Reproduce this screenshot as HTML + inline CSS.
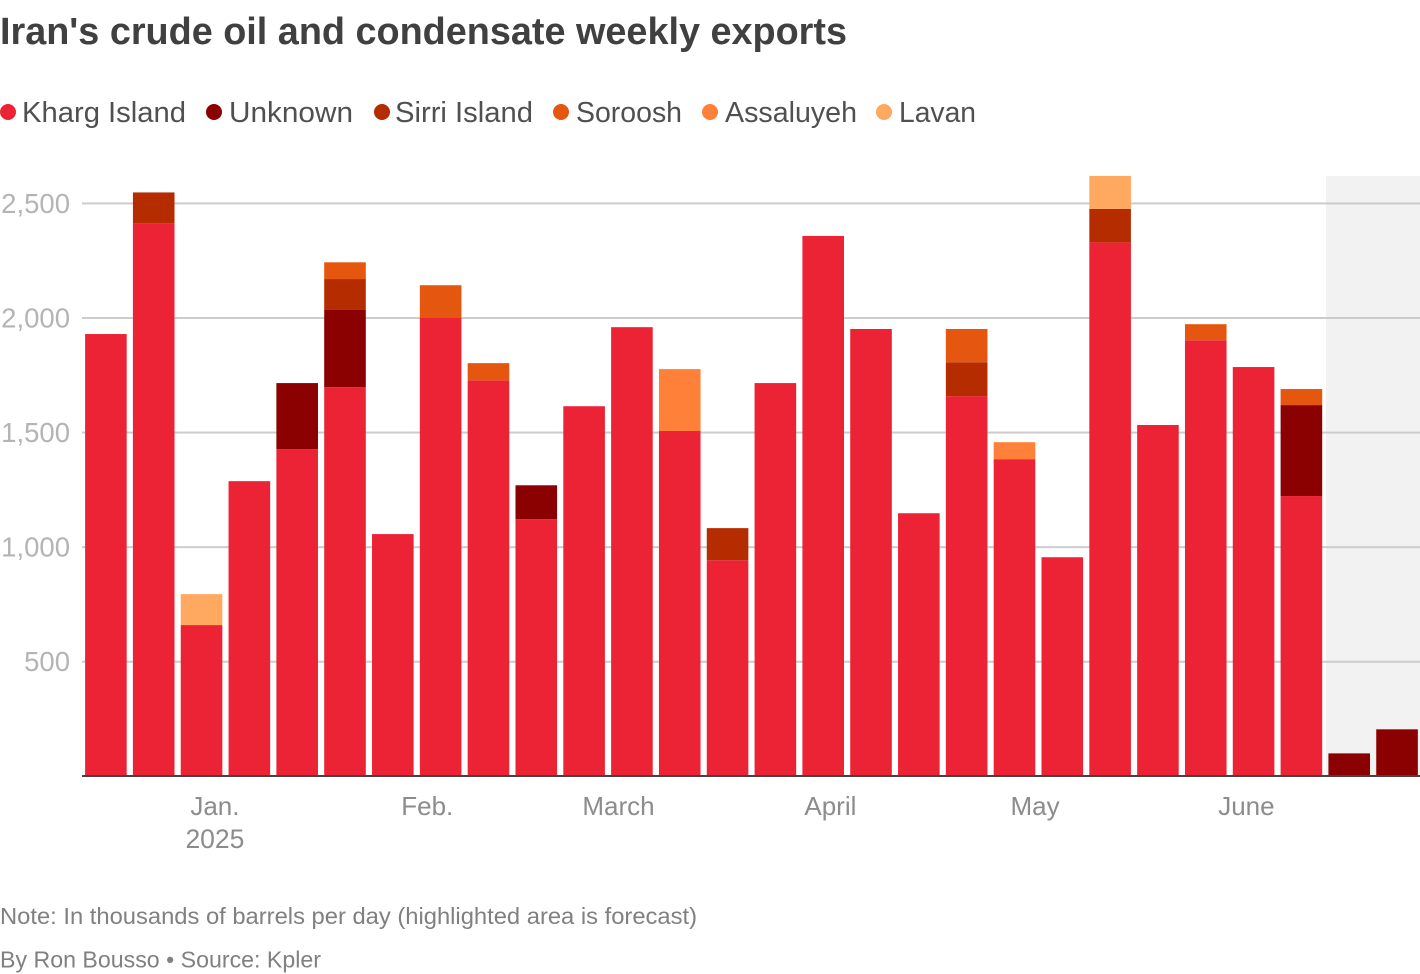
<!DOCTYPE html>
<html lang="en">
<head>
<meta charset="utf-8">
<title>Iran's crude oil and condensate weekly exports</title>
<style>
html,body{margin:0;padding:0;background:#fff;width:1420px;height:974px;overflow:hidden}
svg{display:block;font-family:"Liberation Sans",sans-serif}
</style>
</head>
<body>
<svg id="chart" width="1420" height="974" viewBox="0 0 1420 974" xmlns="http://www.w3.org/2000/svg">
  <text x="0" y="44" font-size="38" font-weight="700" fill="#404040" textLength="847" lengthAdjust="spacingAndGlyphs">Iran's crude oil and condensate weekly exports</text>
  <g font-size="29" fill="#505050">
    <g><circle cx="8" cy="112" r="8" fill="#ec2335"/><text x="22" y="122" textLength="164" lengthAdjust="spacingAndGlyphs">Kharg Island</text></g>
    <g><circle cx="214" cy="112" r="8" fill="#8b0000"/><text x="229" y="122" textLength="124" lengthAdjust="spacingAndGlyphs">Unknown</text></g>
    <g><circle cx="382" cy="112" r="8" fill="#b52c00"/><text x="395" y="122" textLength="138" lengthAdjust="spacingAndGlyphs">Sirri Island</text></g>
    <g><circle cx="561" cy="112" r="8" fill="#e5560e"/><text x="576" y="122" textLength="106" lengthAdjust="spacingAndGlyphs">Soroosh</text></g>
    <g><circle cx="710" cy="112" r="8" fill="#fe8039"/><text x="725" y="122" textLength="132" lengthAdjust="spacingAndGlyphs">Assaluyeh</text></g>
    <g><circle cx="884" cy="112" r="8" fill="#ffa860"/><text x="899" y="122" textLength="77" lengthAdjust="spacingAndGlyphs">Lavan</text></g>
  </g>
  <rect x="1326" y="176" width="94" height="600" fill="#f2f2f2"/>
  <g id="grid"></g>
  <g id="bars"></g>
  <rect x="82" y="775" width="1338" height="2" fill="#4a4044"/>
  <g id="xticks"></g>
  <text x="0" y="924" font-size="23" fill="#808080" textLength="697" lengthAdjust="spacingAndGlyphs">Note: In thousands of barrels per day (highlighted area is forecast)</text>
  <text x="0" y="967.5" font-size="23" fill="#808080" textLength="321" lengthAdjust="spacingAndGlyphs">By Ron Bousso • Source: Kpler</text>
</svg>
<script>
const kharg    = [1930,2413,660,1288,1428,1698,1057,2000,1728,1122,1615,1960,1507,943,1716,2358,1952,1148,1659,1384,956,2330,1533,1903,1786,1223,0,0];
const unknown  = [0,0,0,0,288,337,0,0,0,148,0,0,0,0,0,0,0,0,0,0,0,0,0,0,0,397,100,205];
const sirri    = [0,135,0,0,0,135,0,0,0,0,0,0,0,140,0,0,0,0,148,0,0,146,0,0,0,0,0,0];
const soroosh  = [0,0,0,0,0,73,0,143,75,0,0,0,0,0,0,0,0,0,145,0,0,0,0,70,0,70,0,0];
const assaluyeh= [0,0,0,0,0,0,0,0,0,0,0,0,270,0,0,0,0,0,0,74,0,0,0,0,0,0,0,0];
const lavan    = [0,0,135,0,0,0,0,0,0,0,0,0,0,0,0,0,0,0,0,0,0,144,0,0,0,0,0,0];
const seriesNames = ["kharg-island","unknown","sirri-island","soroosh","assaluyeh","lavan"];
const seriesValues = [kharg,unknown,sirri,soroosh,assaluyeh,lavan];
const seriesColors = ["#ec2335","#8b0000","#b52c00","#e5560e","#fe8039","#ffa860"];
const yTicks = [500,1000,1500,2000,2500];
const yTickLabels = ["500","1,000","1,500","2,000","2,500"];
const monthLabels = ["Jan.","Feb.","March","April","May","June"];
const monthWeeks = [2.28,6.72,10.72,15.15,19.43,23.85];

const NS = "http://www.w3.org/2000/svg";
const yScale = v => 776.3 - v * 0.22915;
const xScale = i => 105.9 + i * 47.82;
const barWidth = 41.6;

function make(tag, attrs, parent){
  const el = document.createElementNS(NS, tag);
  for (const k in attrs) el.setAttribute(k, attrs[k]);
  parent.appendChild(el);
  return el;
}

const grid = document.getElementById("grid");
yTicks.forEach((t, i) => {
  const line = make("rect", {x:82, y:yScale(t)-1, width:1338, height:2, fill:"#cccccc"}, grid);
  
  
  const label = make("text", {x:70, y:yScale(t)+9.5, "text-anchor":"end", "font-size":27.5, fill:"#b4b4b4"}, grid);
  
  
  label.textContent = yTickLabels[i];
});

const bars = document.getElementById("bars");
kharg.forEach((_, i) => {
  let base = 0;
  seriesValues.forEach((vals, s) => {
    const v = vals[i];
    if (!v) return;
    const top = yScale(base + v);
    const rect = make("rect", {x:xScale(i)-barWidth/2, y:top, width:barWidth, height:yScale(base)-top, fill:seriesColors[s]}, bars);
    
    
    base += v;
  });
});

const xticks = document.getElementById("xticks");
monthLabels.forEach((m, i) => {
  const label = make("text", {x:xScale(monthWeeks[i]), y:815, "text-anchor":"middle", "font-size":26, fill:"#8c8c8c"}, xticks);
  
  
  label.textContent = m;
});
const year = make("text", {x:xScale(monthWeeks[0]), y:848, "text-anchor":"middle", "font-size":26.5, fill:"#8c8c8c"}, xticks);


year.textContent = "2025";
</script>
</body>
</html>
